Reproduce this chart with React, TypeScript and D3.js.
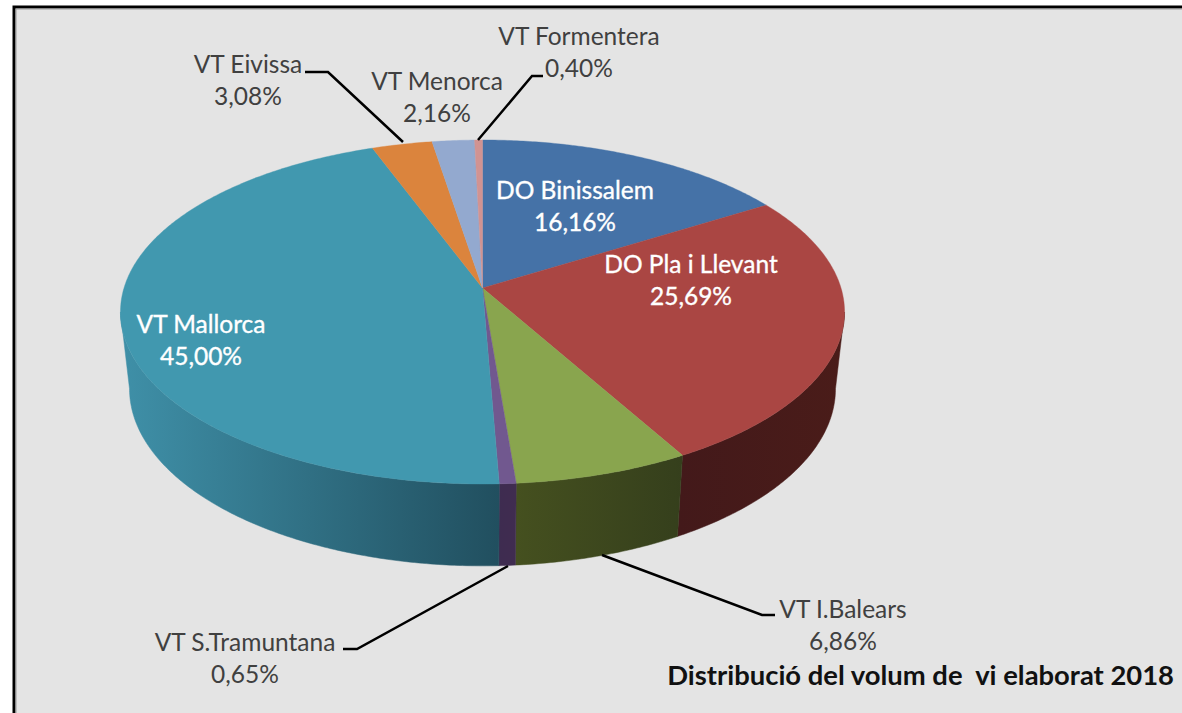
import { useEffect, useRef } from "react";
import * as d3 from "d3";

// data
const categories = ["DO Binissalem", "DO Pla i Llevant", "VT I.Balears", "VT S.Tramuntana", "VT Mallorca", "VT Eivissa", "VT Menorca", "VT Formentera"];
const values = [16.16, 25.69, 6.86, 0.65, 45.0, 3.08, 2.16, 0.4];
const valueLabels = ["16,16%", "25,69%", "6,86%", "0,65%", "45,00%", "3,08%", "2,16%", "0,40%"];
const title = "Distribució del volum de  vi elaborat 2018";

// colours
const topColors = ["#4572a7", "#aa4643", "#89a54e", "#71588f", "#4198af", "#db843d", "#93a9cf", "#d19392"];
// wall colours, left to right
const sideColors = [
	["#22384f", "#22384f"],
	["#43191a", "#4a1c19"],
	["#45501f", "#353f1c"],
	["#3e2c50", "#402c50"],
	["#3f90a8", "#214f5f"],
	["#6e421f", "#6e421f"],
	["#4a546a", "#4a546a"],
	["#694949", "#694949"],
];

// label layout, same order as categories
const labelPos = [
	[575, 199, "#fff"],
	[691, 273, "#fff"],
	[843, 618, "#404040"],
	[245, 651, "#404040"],
	[201, 333, "#fff"],
	[248, 73, "#404040"],
	[437, 90, "#404040"],
	[579, 45, "#404040"],
];
const leaders = [
	null,
	null,
	[[602, 555], [762, 615], [775, 615]],
	[[508, 566], [357, 649], [343, 649]],
	null,
	[[305, 72], [328, 72], [403, 142]],
	null,
	[[478, 140], [532, 76], [543, 76]],
];

// tilted pie: the circle is projected so the apex sits above the ellipse centre
const apex = { x: 482.5, y: 288 };
const persp = -0.1395;
const radiusX = 358.5;
const radiusY = 168.65;

const topPoint = (angle) => {
	const u = Math.sin(angle);
	const v = -Math.cos(angle);
	const d = 1 + persp * v;
	return [(radiusX * u) / d, (radiusY * v) / d];
};
const bottomPoint = (angle) => {
	const [x, y] = topPoint(angle);
	return [x * 0.975, y * 1.03 + 76];
};

function PieChart() {
	const ref = useRef(null);

	useEffect(() => {
		const svg = d3.select(ref.current);
		svg.selectAll("*").remove();

		// frame
		svg.append("rect").attr("width", 1182).attr("height", 713).attr("fill", "#fff");
		svg.append("rect").attr("x", 14).attr("y", 7).attr("width", 1170).attr("height", 710).attr("fill", "#e4e4e4").attr("stroke", "#000").attr("stroke-width", 3);
		svg.append("rect").attr("x", 16).attr("y", 9).attr("width", 1170).attr("height", 710).attr("fill", "none").attr("stroke", "#9a9a9a").attr("stroke-width", 1);

		const arcs = d3.pie().sort(null).value((d) => d)(values);
		const g = svg.append("g").attr("transform", `translate(${apex.x},${apex.y})`);
		const defs = svg.append("defs");
		const line = d3.line();

		const sample = (a0, a1) => {
			const n = Math.max(2, Math.ceil((a1 - a0) / 0.01));
			return d3.range(n + 1).map((i) => a0 + ((a1 - a0) * i) / n);
		};

		// front wall, only the part of the rim facing us (ends on the silhouette)
		const rimStart = Math.acos(persp);
		const rimEnd = 2 * Math.PI - rimStart;
		arcs.forEach((a, i) => {
			const a0 = Math.max(a.startAngle, rimStart);
			const a1 = Math.min(a.endAngle, rimEnd);
			if (a1 <= a0) return;
			const angles = sample(a0, a1);
			const top = angles.map(topPoint);
			const bottom = angles.map(bottomPoint).reverse();
			const xs = top.concat(bottom).map((p) => p[0]);
			const grad = defs
				.append("linearGradient")
				.attr("id", "side" + i)
				.attr("gradientUnits", "userSpaceOnUse")
				.attr("x1", d3.min(xs))
				.attr("x2", d3.max(xs))
				.attr("y1", 0)
				.attr("y2", 0);
			grad.append("stop").attr("offset", 0).attr("stop-color", sideColors[i][0]);
			grad.append("stop").attr("offset", 1).attr("stop-color", sideColors[i][1]);
			g.append("path")
				.attr("d", line(top.concat(bottom)) + "Z")
				.attr("fill", `url(#side${i})`)
				.attr("stroke", `url(#side${i})`)
				.attr("stroke-width", 0.5);
		});

		// top face
		arcs.forEach((a, i) => {
			const rim = sample(a.startAngle, a.endAngle).map(topPoint);
			g.append("path")
				.attr("d", line([[0, 0], ...rim]) + "Z")
				.attr("fill", topColors[i])
				.attr("stroke", topColors[i])
				.attr("stroke-width", 0.4);
		});

		// leader lines
		leaders.forEach((pts) => {
			if (!pts) return;
			svg.append("path").attr("d", line(pts)).attr("fill", "none").attr("stroke", "#000").attr("stroke-width", 2.5);
		});

		// labels
		categories.forEach((name, i) => {
			const [x, y, color] = labelPos[i];
			const text = svg
				.append("text")
				.attr("x", x)
				.attr("y", y)
				.attr("text-anchor", "middle")
				.attr("fill", color)
				.attr("stroke", color === "#fff" ? "#fff" : "none")
				.attr("stroke-width", 0.35)
				.style("font-family", "Lato, 'Open Sans', sans-serif")
				.style("font-size", "24.5px");
			text.append("tspan").attr("x", x).text(name);
			text.append("tspan").attr("x", x).attr("dy", 32).text(valueLabels[i]);
		});

		svg.append("text")
			.attr("x", 1174)
			.attr("y", 685)
			.attr("text-anchor", "end")
			.attr("fill", "#111")
			.attr("xml:space", "preserve")
			.style("white-space", "pre")
			.style("font-family", "Lato, 'Open Sans', sans-serif")
			.style("font-weight", 700)
			.style("font-size", "27.4px")
			.text(title);
	}, []);

	return <svg ref={ref} width={1182} height={713} style={{ position: "absolute", left: 0, top: 0 }} />;
}

export default function App() {
	return <PieChart />;
}
